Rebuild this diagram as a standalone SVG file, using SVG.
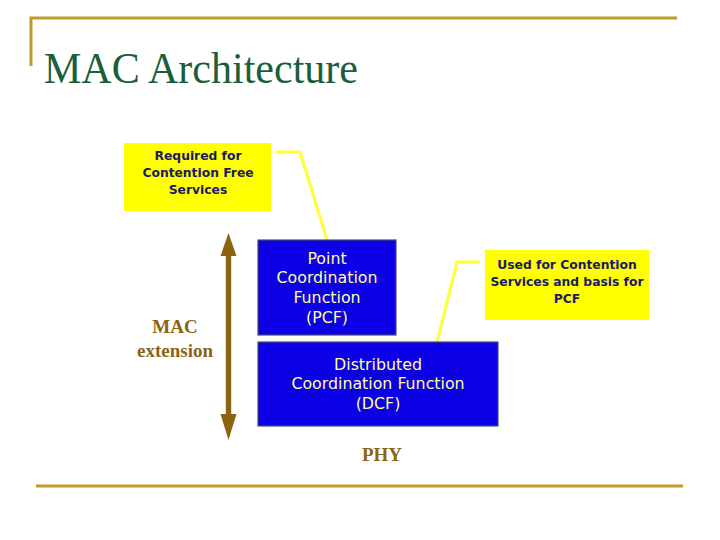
<svg xmlns="http://www.w3.org/2000/svg" width="720" height="540" viewBox="0 0 720 540">
<style>
.frame{stroke:#bf9b2f;stroke-width:3;fill:none}
.note{fill:#ffff00;stroke:none}
.notetxt{font-family:"DejaVu Sans",Verdana,sans-serif;font-weight:bold;font-size:12.3px;fill:#1a1a66;text-anchor:middle}
.blk{fill:#0c00e6;stroke:#4a4a70;stroke-width:1.2}
.blktxt{font-family:"DejaVu Sans",Verdana,sans-serif;font-size:15.8px;fill:#ffff99;text-anchor:middle}
.lead{stroke:#ffff33;stroke-width:3;fill:none;stroke-linejoin:round}
.brown{font-family:"Liberation Serif","Times New Roman",serif;font-weight:bold;font-size:19px;fill:#8b6414;text-anchor:middle}
.arr{fill:#8c6410}
</style>
<rect width="720" height="540" fill="#ffffff"/>
<g id="frame">
<path class="frame" d="M31 66 V18 H677"/>
<path class="frame" d="M36 486 H683"/>
</g>
<text id="title" x="44" y="83" font-family="'Liberation Serif','Times New Roman',serif" font-size="44" fill="#1b5e3a" textLength="314" lengthAdjust="spacingAndGlyphs">MAC Architecture</text>
<g id="connectors">
<path class="lead" d="M276 152 H300 L327 240"/>
<path class="lead" d="M480 262 H457 L437 342"/>
<g id="mac-extension-arrow">
<rect class="arr" x="225.8" y="252" width="5.4" height="166"/>
<path class="arr" d="M228.5 233 L236.5 256 H220.5 Z"/>
<path class="arr" d="M228.5 440 L236.5 414 H220.5 Z"/>
</g>
</g>
<g id="note-pcf">
<rect class="note" x="124" y="143" width="147" height="68"/>
<text class="notetxt" x="198" y="160">Required for</text>
<text class="notetxt" x="198" y="177">Contention Free</text>
<text class="notetxt" x="198" y="194">Services</text>
</g>
<g id="pcf">
<rect class="blk" x="258" y="240" width="138" height="95"/>
<text class="blktxt" x="327" y="264">Point</text>
<text class="blktxt" x="327" y="283">Coordination</text>
<text class="blktxt" x="327" y="303">Function</text>
<text class="blktxt" x="327" y="323">(PCF)</text>
</g>
<g id="dcf">
<rect class="blk" x="258" y="342" width="240" height="84"/>
<text class="blktxt" x="378" y="370">Distributed</text>
<text class="blktxt" x="378" y="389">Coordination Function</text>
<text class="blktxt" x="378" y="409">(DCF)</text>
</g>
<g id="note-dcf">
<rect class="note" x="485" y="250" width="164" height="70"/>
<text class="notetxt" x="567" y="269">Used for Contention</text>
<text class="notetxt" x="567" y="286">Services and basis for</text>
<text class="notetxt" x="567" y="303">PCF</text>
</g>
<g id="mac-extension">
<text class="brown" x="175" y="333">MAC</text>
<text class="brown" x="175" y="357">extension</text>
</g>
<g id="phy">
<text class="brown" x="382" y="461">PHY</text>
</g>
</svg>
